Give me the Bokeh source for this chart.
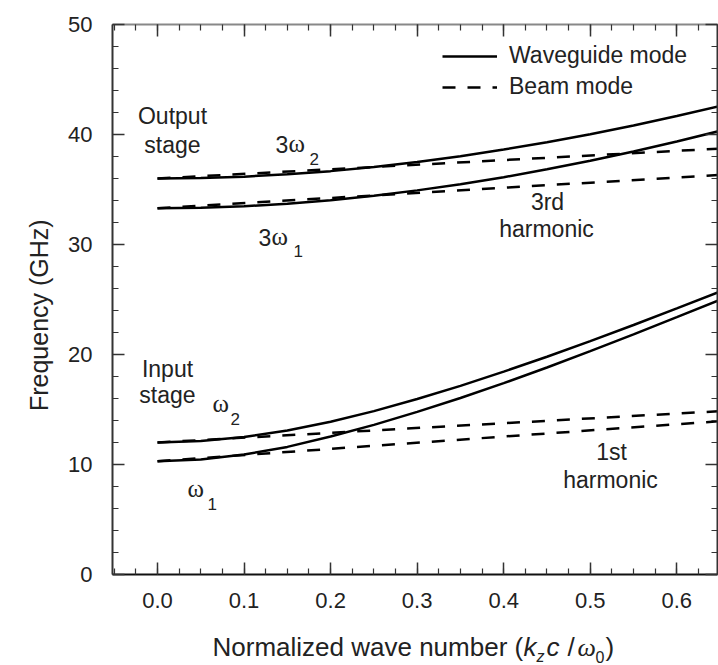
import numpy as np
from bokeh.plotting import figure
from bokeh.layouts import row, column
from bokeh.models import (Range1d, LinearAxis, FixedTicker, Label, Legend, LegendItem,
                          CustomLabelingPolicy)
from bokeh.embed import file_html
from bokeh.resources import INLINE

# normalized wave number k_z c / omega_0
k = [0.0, 0.05, 0.10, 0.15, 0.20, 0.25, 0.30, 0.35, 0.40, 0.45, 0.50, 0.55, 0.60, 0.65]

# waveguide-mode dispersion curves (GHz)
wg_w1 = [10.3, 10.45, 10.9, 11.6, 12.55, 13.6, 14.78, 16.05, 17.4, 18.82, 20.31, 21.83, 23.39, 24.97]
wg_w2 = [12.0, 12.13, 12.5, 13.1, 13.89, 14.85, 15.95, 17.15, 18.44, 19.8, 21.22, 22.68, 24.19, 25.72]
wg_3w1 = [33.3, 33.35, 33.48, 33.71, 34.03, 34.43, 34.92, 35.48, 36.12, 36.84, 37.62, 38.46, 39.37, 40.33]
wg_3w2 = [36.0, 36.04, 36.17, 36.38, 36.67, 37.05, 37.5, 38.03, 38.63, 39.29, 40.03, 40.82, 41.68, 42.59]

# beam-mode lines (straight), end points over the k range (GHz)
k_beam = [0.0, 0.65]
beam_w1 = [10.3, 13.94]
beam_w2 = [12.0, 14.85]
beam_3w1 = [33.3, 36.32]
beam_3w2 = [36.0, 38.72]

x_ticks = [0.0, 0.1, 0.2, 0.3, 0.4, 0.5, 0.6]
x_tick_labels = ["0.0", "0.1", "0.2", "0.3", "0.4", "0.5", "0.6"]
y_ticks = [0, 10, 20, 30, 40, 50]

FONT = "Liberation Sans"
SERIF = "Liberation Serif"
TXT = "#222222"

W, H = 718, 665
YLAB_W = 60          # strip holding the vertical axis title
LEFT, RIGHT, TOP, BOTTOM = 52, 1, 24, 56
MAIN_W = W - YLAB_W
MAIN_H = TOP + 550 + BOTTOM
XLAB_H = H - MAIN_H  # strip holding the horizontal axis title

X0, X1 = -0.052, 0.647
p = figure(width=MAIN_W, height=MAIN_H, x_range=Range1d(X0, X1), y_range=Range1d(0, 50),
           output_backend="svg", toolbar_location=None,
           min_border_left=LEFT, min_border_right=RIGHT,
           min_border_top=TOP, min_border_bottom=BOTTOM,
           background_fill_color="white", border_fill_color="white")
p.grid.visible = False
p.outline_line_color = None

frame_w = MAIN_W - LEFT - RIGHT
frame_h = MAIN_H - TOP - BOTTOM


def xd(px):
    """page x (pixels from the left edge) -> data x of the main plot"""
    return X0 + (px - YLAB_W - LEFT) * (X1 - X0) / frame_w


def yd(py):
    """page y (pixels from the top edge) -> data y of the main plot"""
    return 50 * (TOP + frame_h - py) / frame_h


x_minor = [round(v, 3) for v in np.arange(-0.05, 0.651, 0.025)]
y_minor = list(range(0, 51, 2))
xticker = FixedTicker(ticks=x_ticks, minor_ticks=x_minor)
yticker = FixedTicker(ticks=y_ticks, minor_ticks=y_minor)

no_labels = CustomLabelingPolicy(code="""
const all = [...indices]
for (const i of all) indices.unset(i)
return indices
""")


def style_axis(ax, ticker, show_labels, line_color="#333333"):
    ax.ticker = ticker
    ax.axis_line_width = 2
    ax.axis_line_color = line_color
    ax.major_tick_line_color = "#333333"
    ax.minor_tick_line_color = "#333333"
    ax.major_tick_line_width = 1.5
    ax.minor_tick_line_width = 1.2
    ax.major_tick_in = 12
    ax.major_tick_out = 0
    ax.minor_tick_in = 6
    ax.minor_tick_out = 0
    ax.major_label_text_font = FONT
    ax.major_label_text_font_size = "22px"
    ax.major_label_text_color = TXT
    if not show_labels:
        ax.major_label_overrides = {t: "" for t in ticker.ticks}
        ax.major_label_policy = no_labels
        ax.major_label_standoff = 0


style_axis(p.xaxis[0], xticker, True, "#111111")
p.xaxis[0].major_label_overrides = {t: s for t, s in zip(x_ticks, x_tick_labels)}
p.xaxis[0].major_label_standoff = 18
style_axis(p.yaxis[0], yticker, True)
p.yaxis[0].major_label_standoff = 20

top_axis = LinearAxis()
style_axis(top_axis, xticker, False, "#888888")
p.add_layout(top_axis, "above")
right_axis = LinearAxis()
style_axis(right_axis, yticker, False)
p.add_layout(right_axis, "right")

LW = 2.5
DASH = "13 12"
r_wg = None
r_bm = None
for ys in (wg_w1, wg_w2, wg_3w1, wg_3w2):
    r = p.line(k, ys, line_color="black", line_width=LW)
    r_wg = r_wg or r
for ys in (beam_w1, beam_w2, beam_3w1, beam_3w2):
    r = p.line(k_beam, ys, line_color="black", line_width=LW, line_dash=DASH)
    r_bm = r_bm or r

legend = Legend(items=[LegendItem(label="Waveguide mode", renderers=[r_wg]),
                       LegendItem(label="Beam mode", renderers=[r_bm])],
                location=(330, 474), orientation="vertical",
                background_fill_alpha=0, border_line_color=None,
                padding=0, margin=0, spacing=4,
                glyph_width=55, glyph_height=26, label_height=26,
                label_standoff=12, label_text_font=FONT,
                label_text_font_size="23px", label_text_color=TXT)
p.add_layout(legend, "center")

# labels anchored on the alphabetic baseline land ~0.43 em low; lift them by that much
BASELINE_LIFT = 0.43


def put(fig, text, x, y, size=23, align="center", font=FONT, style="normal", angle=0.0,
        baseline="alphabetic"):
    fig.add_layout(Label(x=x, y=y, text=text, text_font=font,
                         text_font_size=f"{size}px", text_font_style=style,
                         text_color=TXT, text_align=align, text_baseline=baseline,
                         angle=angle))


def note(text, px, py, size=23, **kw):
    put(p, text, xd(px), yd(py - BASELINE_LIFT * size), size=size, **kw)


# stage and harmonic annotations
note("Output", 172, 125)
note("stage", 172, 154)
note("Input", 167, 378)
note("stage", 167, 404)
note("3rd", 547, 211)
note("harmonic", 546, 238)
note("1st", 611, 461)
note("harmonic", 610, 489)

# mode labels
note("3", 275, 154, align="left")
note("\u03c9", 288, 154, size=25, align="left", font=SERIF)
note("2", 309, 166, size=17, align="left")
note("3", 258, 247, align="left")
note("\u03c9", 271, 247, size=25, align="left", font=SERIF)
note("1", 293, 258, size=17, align="left")
note("\u03c9", 212, 414, size=25, align="left", font=SERIF)
note("2", 230, 426, size=17, align="left")
note("\u03c9", 187, 499, size=25, align="left", font=SERIF)
note("1", 207, 511, size=17, align="left")


def strip(w, h, x_range, y_range):
    f = figure(width=w, height=h, x_range=x_range, y_range=y_range, title=None,
               output_backend="svg", toolbar_location=None,
               x_axis_location=None, y_axis_location=None,
               min_border_left=0, min_border_right=0, min_border_top=0, min_border_bottom=0,
               background_fill_color="white", border_fill_color="white")
    f.grid.visible = False
    f.outline_line_color = None
    return f


# vertical axis title (strip coordinates are page pixels)
ylab = strip(YLAB_W, MAIN_H, Range1d(0, YLAB_W), Range1d(MAIN_H, 0))
put(ylab, "Frequency (GHz)", 38, 333, size=25, angle=np.pi / 2, baseline="middle")

# horizontal axis title with italic symbols and subscripts
xlab = strip(W, XLAB_H, Range1d(0, W), Range1d(H, MAIN_H))


def xtitle(text, px, py, size=26, **kw):
    put(xlab, text, px, py - BASELINE_LIFT * size, size=size, align="left", **kw)


xtitle("Normalized wave number (", 212, 658)
xtitle("k", 523, 658, style="italic")
xtitle("z", 536, 663, size=16, style="italic")
xtitle("c", 546, 658, style="italic")
xtitle("/", 567, 658)
xtitle("\u03c9", 577, 658, font=SERIF, style="italic")
xtitle("0", 595, 663, size=16)
xtitle(")", 605, 658)

page = column(row(ylab, p, spacing=0), xlab, spacing=0)
open("out.html", "w").write(file_html(page, INLINE))
